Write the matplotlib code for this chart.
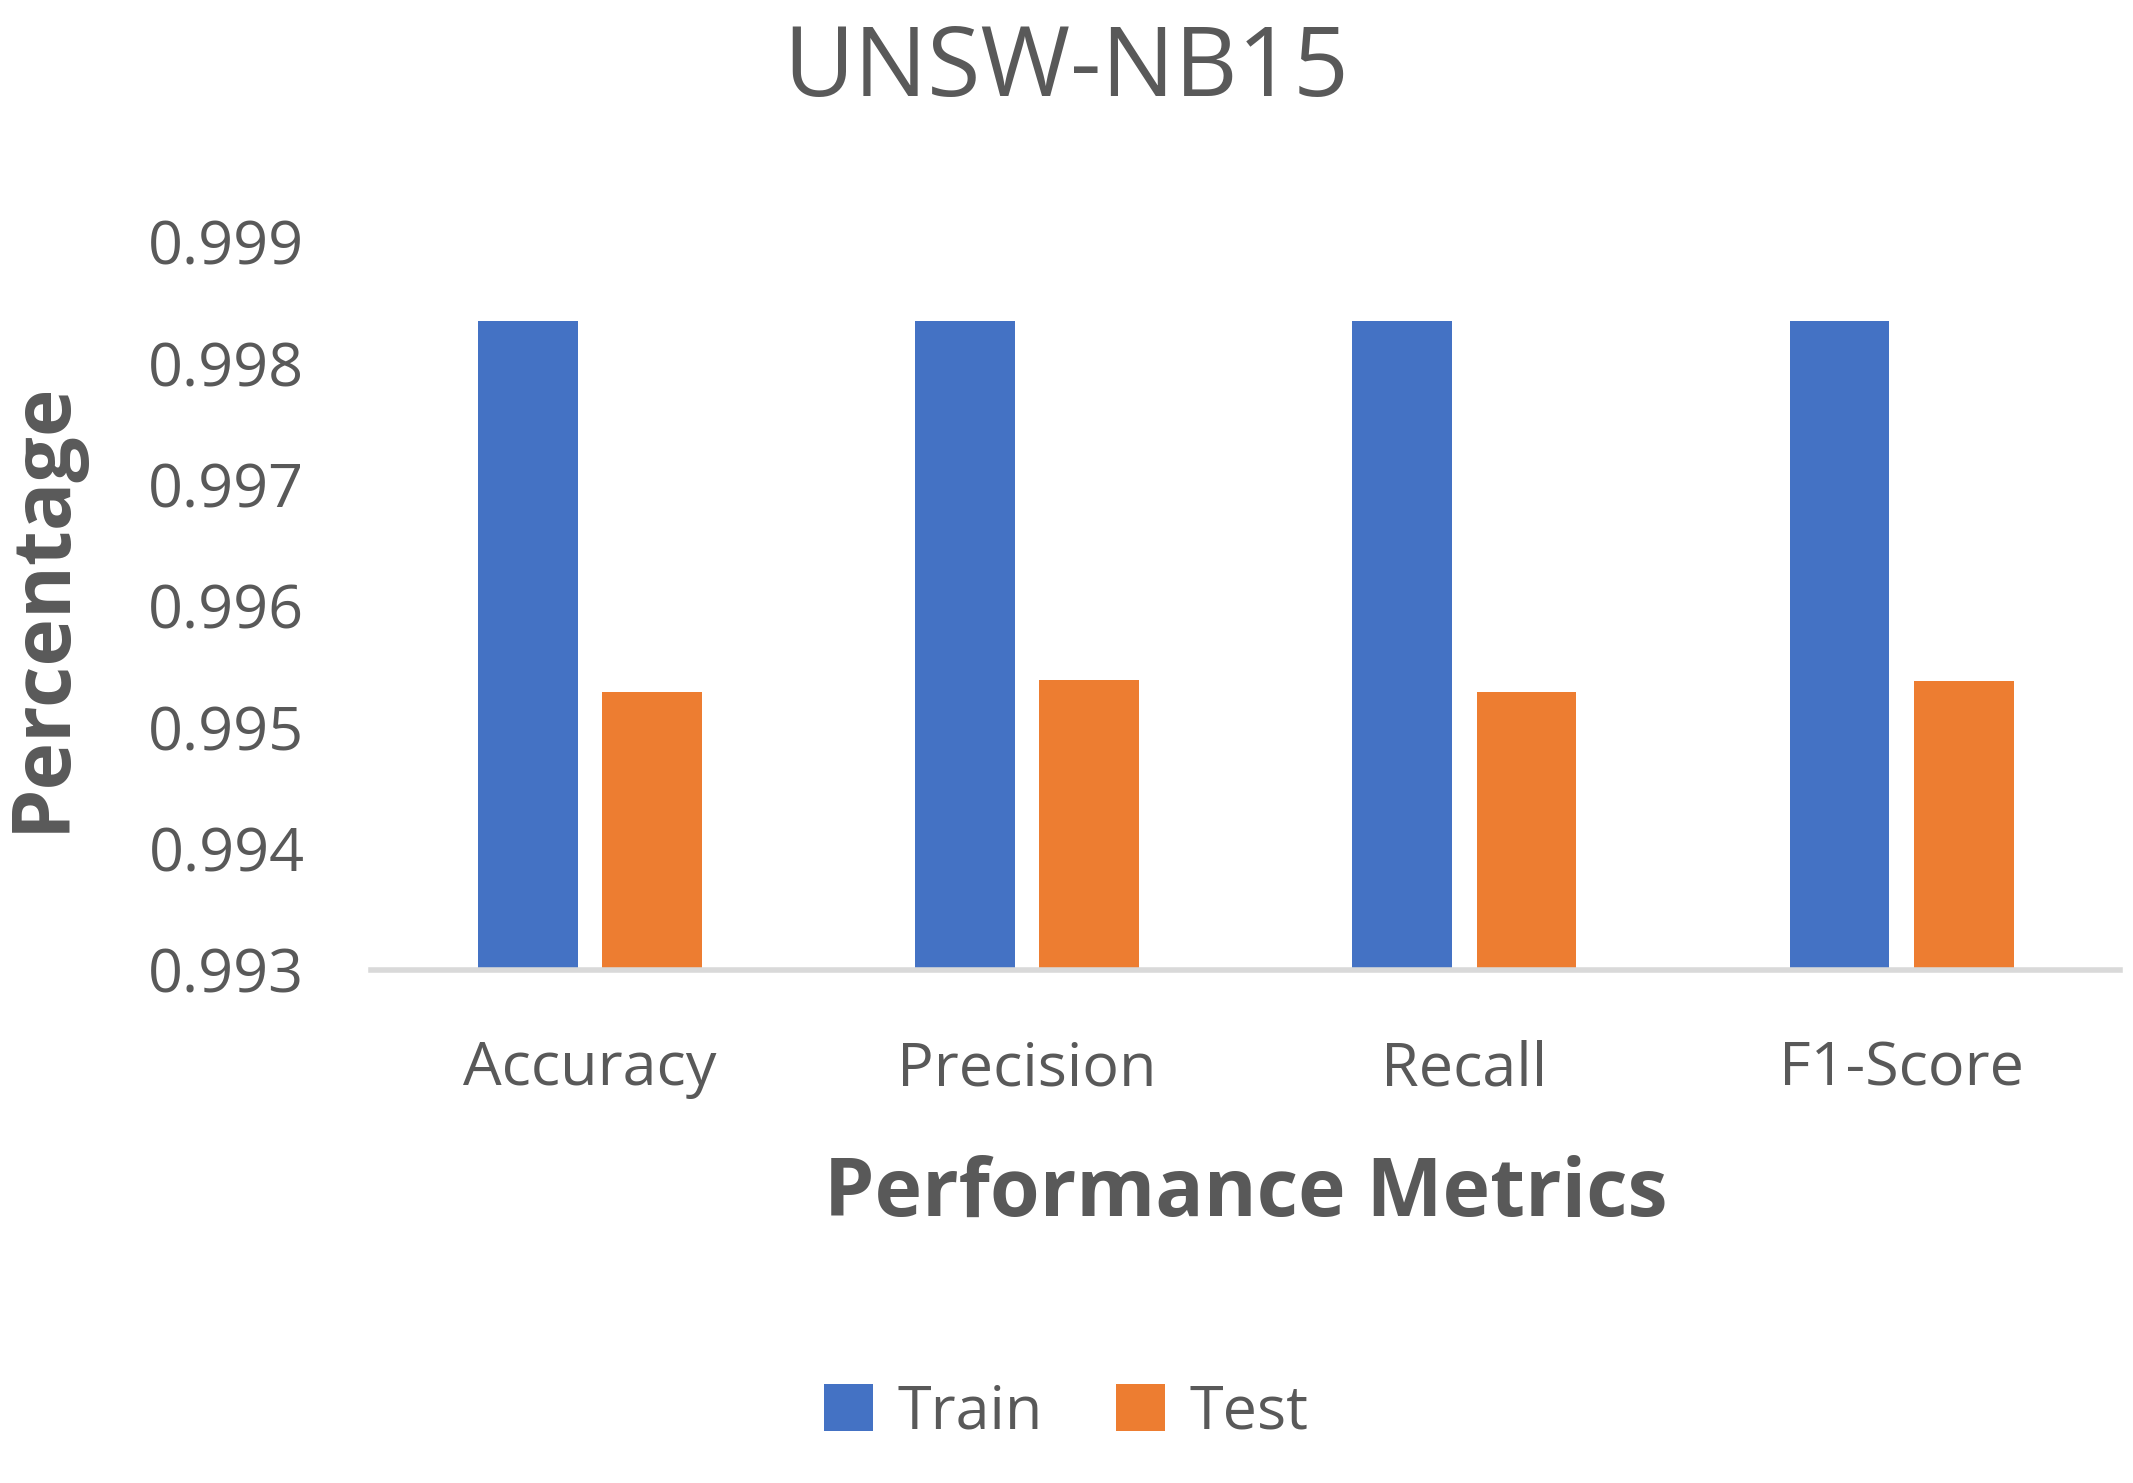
import numpy as np
import matplotlib.pyplot as plt

plt.rcParams['font.family'] = ['Open Sans', 'DejaVu Sans']

metrics = ['Accuracy', 'Precision', 'Recall', 'F1-Score']
train = [0.99835, 0.99835, 0.99835, 0.99835]
test = [0.99529, 0.99539, 0.99529, 0.99538]

grey = '#595959'
fig = plt.figure(figsize=(21.33, 14.83), dpi=100)
ax = fig.add_axes([0.174, 0.346, 0.82, 0.491])

x = np.arange(len(metrics))
w = 0.228
ax.bar(x - 0.142, train, w, color='#4472C4', label='Train')
ax.bar(x + 0.142, test, w, color='#ED7D31', label='Test')

ax.set_xlim(-0.5, 3.5)
ax.set_ylim(0.993, 0.999)
ax.set_yticks(np.arange(0.993, 0.99901, 0.001))
ax.set_yticklabels(['%.3f' % v for v in np.arange(0.993, 0.99901, 0.001)])
ax.set_xticks(x)
ax.set_xticklabels(metrics)
ax.tick_params(length=0, labelsize=44, colors=grey)
ax.tick_params(axis='x', pad=50)
ax.tick_params(axis='y', pad=48)
for s in ['top', 'right', 'left']:
    ax.spines[s].set_visible(False)
ax.spines['bottom'].set_color('#D9D9D9')
ax.spines['bottom'].set_linewidth(4)

ax.set_xlabel('Performance Metrics', fontsize=58, fontweight='bold', color=grey, labelpad=40)
ax.set_ylabel('Percentage', fontsize=58, fontweight='bold', color=grey)
ax.yaxis.set_label_coords(-0.165, 0.5)
fig.suptitle('UNSW-NB15', fontsize=70, color=grey, y=0.985)

fig.legend(loc='lower center', bbox_to_anchor=(0.5, -0.01), ncol=2, frameon=False,
           fontsize=44, labelcolor=grey, handlelength=0.8, handleheight=0.8,
           columnspacing=1.2, handletextpad=0.4)

fig.savefig('out.png')
